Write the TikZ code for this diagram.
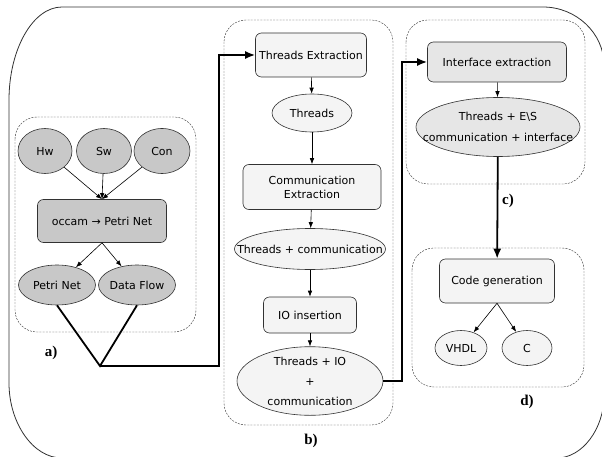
\documentclass[tikz,border=0pt]{standalone}
\usepackage{fontspec}
\usepackage{tikz}
\usetikzlibrary{shapes,arrows,arrows.meta,positioning,calc}
\usepackage{xcolor}
\newfontfamily\boxfont{DejaVu Sans}
\newfontfamily\tagfont{Liberation Serif}
\definecolor{darkfill}{RGB}{200,200,200}
\definecolor{midfill}{RGB}{230,230,230}
\definecolor{lightfill}{RGB}{244,244,244}
\definecolor{linegray}{RGB}{50,50,50}
\newcommand{\zw}[1]{\makebox[0pt]{#1}}

\begin{document}
\begin{tikzpicture}[x=1pt, y=-1pt,
    stage/.style={rectangle, draw=linegray, line width=0.6pt, rounded corners=6pt, inner sep=0pt, align=center, font=\boxfont\fontsize{11}{14}\selectfont},
    data/.style={ellipse, draw=linegray, line width=0.6pt, inner sep=0pt, align=center, font=\boxfont\fontsize{11}{14}\selectfont},
    group/.style={draw=linegray, dash pattern=on 2pt off 1.2pt, line width=0.4pt, rounded corners=22pt},
    flow/.style={-{Latex[length=6pt, width=4.5pt]}, line width=0.6pt},
    bigflow/.style={-{Latex[length=10pt, width=8pt]}, line width=1.8pt},
    tag/.style={font=\tagfont\bfseries\fontsize{15}{15}\selectfont}]
    \useasboundingbox (0,0) rectangle (602,457);
    \draw[linegray, line width=0.8pt] (62,7) -- (543,7) .. controls (576,7) and (604,33) .. (604,65) -- (604,396) .. controls (604,429) and (582,458) .. (557,458) -- (62,458) .. controls (33,458) and (9,423) .. (9,383) -- (9,100) .. controls (9,49) and (33,7) .. (62,7);
    \draw[group] (15,117) rectangle (196,332);
    \draw[group] (224,20) rectangle (393,425);
    \draw[group] (406,20) rectangle (585,184);
    \draw[group] (412,248) rectangle (584,387);
    \node[data, fill=darkfill, minimum width=54pt, minimum height=45pt] (hw) at (45,151) {Hw};
    \node[data, fill=darkfill, minimum width=55pt, minimum height=45pt] (sw) at (104,151) {Sw};
    \node[data, fill=darkfill, minimum width=56pt, minimum height=45pt] (con) at (162,151) {Con};
    \node[stage, fill=darkfill, minimum width=129pt, minimum height=43pt] (occam) at (102,221) {occam → Petri Net};
    \node[data, fill=darkfill, minimum width=77pt, minimum height=40pt] (petri) at (57,285) {\zw{Petri Net}};
    \node[data, fill=darkfill, minimum width=77pt, minimum height=40pt] (dataflow) at (137,285) {\zw{Data Flow}};
    \node[stage, fill=lightfill, minimum width=111pt, minimum height=44pt] (thrext) at (311,55) {Threads Extraction};
    \node[data, fill=lightfill, minimum width=80pt, minimum height=38pt] (threads) at (312,113) {Threads};
    \node[stage, fill=lightfill, minimum width=138pt, minimum height=45pt] (commext) at (312,187) {Communication\\Extraction};
    \node[data, fill=lightfill, minimum width=151pt, minimum height=41pt] (thrcomm) at (310,249) {\zw{Threads + communication}};
    \node[stage, fill=lightfill, minimum width=93pt, minimum height=36pt] (ioins) at (310,315) {IO insertion};
    \node[data, fill=lightfill, minimum width=146pt, minimum height=58pt, font=\boxfont\fontsize{11}{20}\selectfont] (thrio) at (310,381) {\zw{Threads + IO}\\+\\\zw{communication}};
    \node[stage, fill=midfill, minimum width=139pt, minimum height=40pt] (ifext) at (497,62) {Interface extraction};
    \node[data, fill=midfill, minimum width=164pt, minimum height=59pt, font=\boxfont\fontsize{11}{21}\selectfont] (thrif) at (498,127) {\zw{Threads + E\textbackslash S}\\\zw{communication + interface}};
    \node[stage, fill=lightfill, minimum width=115pt, minimum height=44pt] (codegen) at (497,281) {Code generation};
    \node[data, fill=lightfill, minimum width=52pt, minimum height=35pt] (vhdl) at (461,348) {VHDL};
    \node[data, fill=lightfill, minimum width=50pt, minimum height=35pt] (cc) at (527,348) {C};
    \node[tag] (taga) at (51,353) {a)};
    \node[tag] (tagb) at (311,441) {b)};
    \node[tag] (tagc) at (508,201) {c)};
    \node[tag] (tagd) at (527,402) {d)};
    \coordinate (join) at (100,366);
    \coordinate (abend) at (219,366);
    \coordinate (bbend) at (402,381);
    \draw[flow] (hw) -- (occam.north);
    \draw[flow] (sw) -- (occam.north);
    \draw[flow] (con) -- (occam.north);
    \draw[flow] (occam.south) -- (petri);
    \draw[flow] (occam.south) -- (dataflow);
    \draw[line width=1.8pt] (petri.south) -- (join) -- (dataflow.south);
    \draw[bigflow] (join) -- (abend) |- (thrext.west);
    \draw[flow] (thrext) -- (threads);
    \draw[flow] (threads) -- (commext);
    \draw[flow] (commext) -- (thrcomm);
    \draw[flow] (thrcomm) -- (ioins);
    \draw[flow] (ioins) -- (thrio);
    \draw[bigflow] (thrio.east) -- (bbend) |- (ifext.west);
    \draw[flow] (ifext) -- (thrif);
    \draw[bigflow] (thrif) -- (codegen);
    \draw[flow] (codegen.south) -- (vhdl);
    \draw[flow] (codegen.south) -- (cc);
\end{tikzpicture}
\end{document}
